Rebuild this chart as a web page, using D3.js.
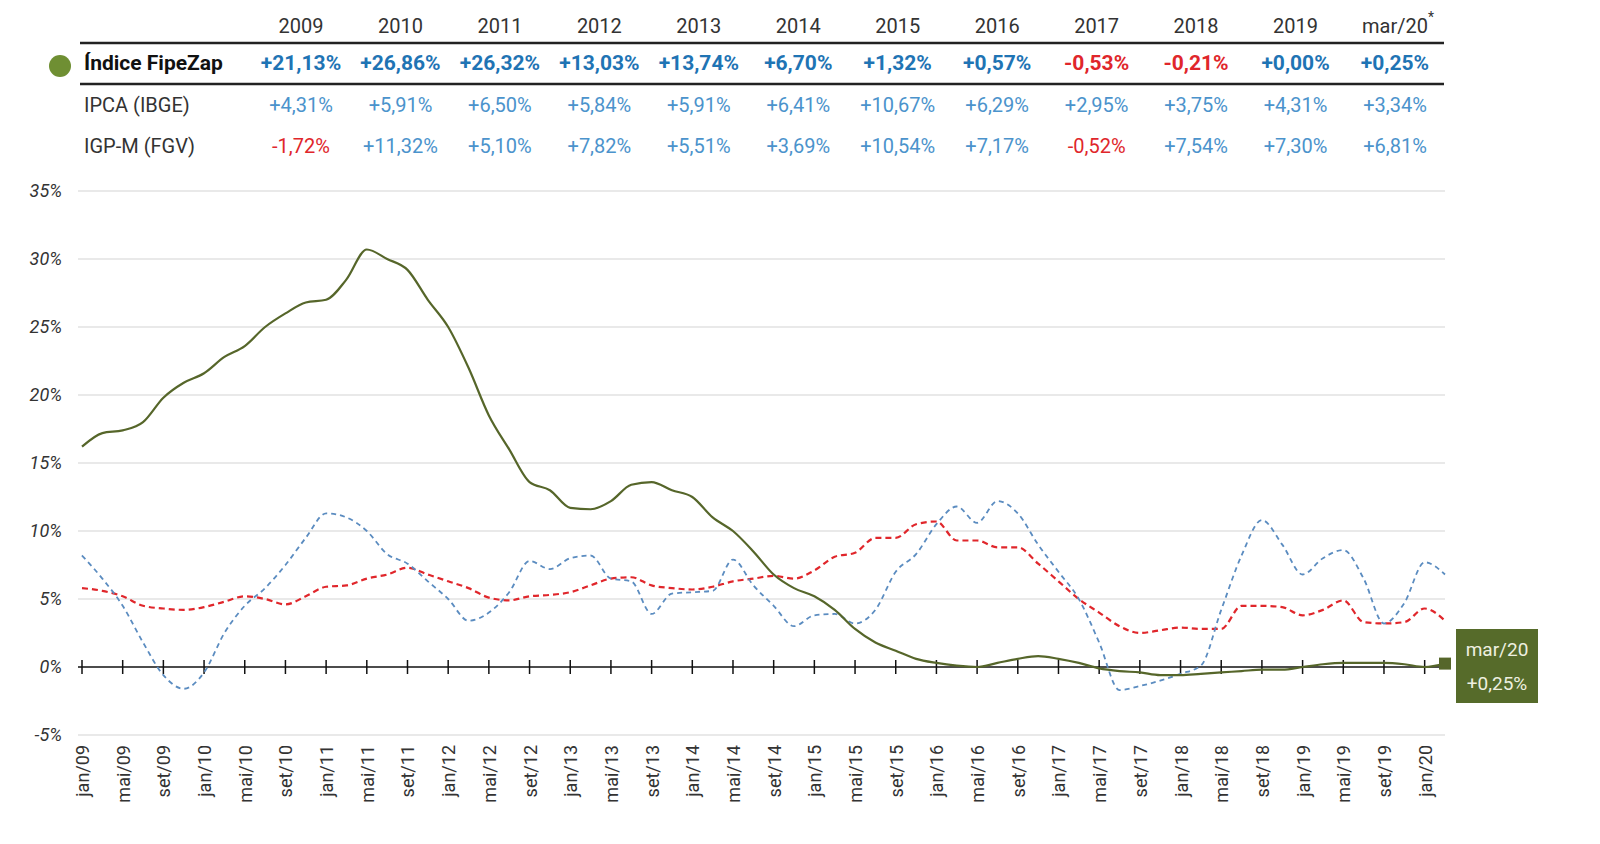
<!DOCTYPE html>
<html><head><meta charset="utf-8">
<script src="https://cdn.jsdelivr.net/npm/d3@7"></script>
<style>body{margin:0;background:#fff;font-family:"Liberation Sans Narrow","Roboto","DejaVu Sans Condensed",sans-serif;}</style>
</head><body>
<script>
var years = ["2009","2010","2011","2012","2013","2014","2015","2016","2017","2018","2019","mar/20"];
var fipeYear = ["+21,13%","+26,86%","+26,32%","+13,03%","+13,74%","+6,70%","+1,32%","+0,57%","-0,53%","-0,21%","+0,00%","+0,25%"];
var ipcaYear = ["+4,31%","+5,91%","+6,50%","+5,84%","+5,91%","+6,41%","+10,67%","+6,29%","+2,95%","+3,75%","+4,31%","+3,34%"];
var igpmYear = ["-1,72%","+11,32%","+5,10%","+7,82%","+5,51%","+3,69%","+10,54%","+7,17%","-0,52%","+7,54%","+7,30%","+6,81%"];

// values every 2 months from jan/09 (month index 0) to mar/20 (134)
var fipe = [16.2,17.2,17.4,18.0,19.8,20.9,21.6,22.8,23.6,25.0,26.0,26.8,27.0,28.5,30.7,30.0,29.2,27.0,25.0,22.0,
  18.5,16.0,13.6,13.0,11.7,11.6,12.2,13.4,13.6,13.0,12.5,11.0,10.0,8.5,6.8,5.8,5.2,4.2,2.8,1.8,
  1.2,0.6,0.3,0.1,0.0,0.3,0.6,0.8,0.6,0.3,-0.1,-0.3,-0.4,-0.6,-0.6,-0.5,-0.4,-0.3,-0.2,-0.2,
  0.0,0.2,0.3,0.3,0.3,0.2,0.0,0.25];
var ipca = [5.8,5.6,5.2,4.5,4.3,4.2,4.4,4.8,5.2,5.0,4.6,5.2,5.9,6.0,6.5,6.8,7.3,6.8,6.3,5.8,
  5.1,4.9,5.2,5.3,5.5,6.0,6.5,6.6,6.0,5.8,5.7,5.9,6.3,6.5,6.7,6.5,7.1,8.1,8.4,9.5,
  9.5,10.5,10.7,9.3,9.3,8.8,8.8,7.6,6.3,5.0,4.0,3.0,2.5,2.7,2.9,2.8,2.8,4.5,4.5,4.4,
  3.8,4.2,4.9,3.3,3.2,3.3,4.3,3.4];
var igpm = [8.2,6.5,4.5,1.8,-0.6,-1.6,-0.4,2.5,4.5,5.8,7.5,9.5,11.3,11.0,10.0,8.3,7.6,6.3,5.0,3.4,
  4.0,5.5,7.8,7.2,8.0,8.2,6.5,6.3,3.9,5.4,5.5,5.6,7.9,6.0,4.5,3.0,3.8,3.9,3.2,4.2,
  7.0,8.3,10.5,11.8,10.6,12.2,11.3,9.0,7.0,5.0,1.8,-1.7,-1.4,-1.0,-0.5,0.1,4.2,8.2,10.8,9.0,
  6.8,8.0,8.6,6.5,3.2,4.7,7.7,6.8];
var yTicks = [-5,0,5,10,15,20,25,30,35];
var monthNames = ["jan","mai","set"];

var W = 1600, H = 844;
var svg = d3.select("body").append("svg").attr("width", W).attr("height", H);

var x = d3.scaleLinear().domain([0,134]).range([82,1445]);
var y = d3.scaleLinear().domain([-5,35]).range([735,191]);

// table
var colX = d3.scalePoint().domain(years).range([301,1395]);
svg.selectAll(".yr").data(years).enter().append("text")
  .attr("x", function(d){return colX(d);}).attr("y", 33)
  .attr("text-anchor","middle").attr("font-size",20).attr("fill","#333")
  .text(function(d){return d;});
svg.append("text").attr("x",1428).attr("y",22).attr("font-size",14).attr("fill","#333").text("*");
svg.append("line").attr("x1",80).attr("x2",1444).attr("y1",43).attr("y2",43).attr("stroke","#222").attr("stroke-width",2.5);
svg.append("line").attr("x1",80).attr("x2",1444).attr("y1",84).attr("y2",84).attr("stroke","#222").attr("stroke-width",2.5);
svg.append("circle").attr("cx",60).attr("cy",66).attr("r",11).attr("fill","#6f8f33");
svg.append("text").attr("x",84).attr("y",70).attr("font-size",21).attr("font-weight","bold").attr("fill","#111").text("Índice FipeZap");
svg.append("text").attr("x",84).attr("y",112).attr("font-size",20).attr("fill","#333").text("IPCA (IBGE)");
svg.append("text").attr("x",84).attr("y",153).attr("font-size",20).attr("fill","#333").text("IGP-M (FGV)");
function row(vals, yy, bold){
  svg.selectAll(null).data(vals).enter().append("text")
    .attr("x", function(d,i){return colX(years[i]);}).attr("y", yy)
    .attr("text-anchor","middle").attr("font-size", bold?21:20)
    .attr("font-weight", bold?"bold":"normal")
    .attr("fill", function(d){return d[0]=="-" ? "#e0262b" : (bold?"#1f74b4":"#4b93cc");})
    .text(function(d){return d;});
}
row(fipeYear,70,true); row(ipcaYear,112,false); row(igpmYear,153,false);

// grid
svg.selectAll(".grid").data(yTicks.filter(function(d){return d!=0;})).enter().append("line")
  .attr("x1",78).attr("x2",1445).attr("y1",function(d){return y(d);}).attr("y2",function(d){return y(d);})
  .attr("stroke","#e2e2e2").attr("stroke-width",1.5);
svg.selectAll(".yl").data(yTicks).enter().append("text")
  .attr("x",62).attr("y",function(d){return y(d)+6;}).attr("text-anchor","end")
  .attr("font-size",18).attr("font-style","italic").attr("fill","#333")
  .text(function(d){return d+"%";});

// zero axis
svg.append("line").attr("x1",78).attr("x2",1445).attr("y1",y(0)).attr("y2",y(0)).attr("stroke","#111").attr("stroke-width",1.5);
var tickMonths = d3.range(0,133,4);
svg.selectAll(".tk").data(tickMonths).enter().append("line")
  .attr("x1",function(d){return x(d);}).attr("x2",function(d){return x(d);})
  .attr("y1",y(0)-7).attr("y2",y(0)+7).attr("stroke","#111").attr("stroke-width",1.5);
svg.selectAll(".xl").data(tickMonths).enter().append("text")
  .attr("transform",function(d){return "translate("+(x(d)+7)+",745) rotate(-90)";})
  .attr("text-anchor","end").attr("font-size",18).attr("fill","#333")
  .text(function(d){
    var yr = 9 + Math.floor(d/12);
    return monthNames[(d%12)/4] + "/" + (yr<10?"0"+yr:yr);
  });

// lines
var line = d3.line().x(function(d,i){return x(i*2);}).y(function(d){return y(d);}).curve(d3.curveMonotoneX);
svg.append("path").datum(ipca).attr("d",line).attr("fill","none").attr("stroke","#e0262b").attr("stroke-width",2.2).attr("stroke-dasharray","6,4");
svg.append("path").datum(igpm).attr("d",line).attr("fill","none").attr("stroke","#5b8cc0").attr("stroke-width",1.8).attr("stroke-dasharray","5,4");
svg.append("path").datum(fipe).attr("d",line).attr("fill","none").attr("stroke","#56662a").attr("stroke-width",2.2);

// end marker and label
svg.append("rect").attr("x",x(134)-6).attr("y",y(0.25)-6).attr("width",12).attr("height",12).attr("fill","#56662a");
svg.append("rect").attr("x",1456).attr("y",629).attr("width",82).attr("height",74).attr("fill","#566b2a");
svg.append("text").attr("x",1497).attr("y",656).attr("text-anchor","middle").attr("font-size",19).attr("fill","#eef0e0").text("mar/20");
svg.append("text").attr("x",1497).attr("y",690).attr("text-anchor","middle").attr("font-size",19).attr("fill","#eef0e0").text("+0,25%");
</script>
</body></html>
